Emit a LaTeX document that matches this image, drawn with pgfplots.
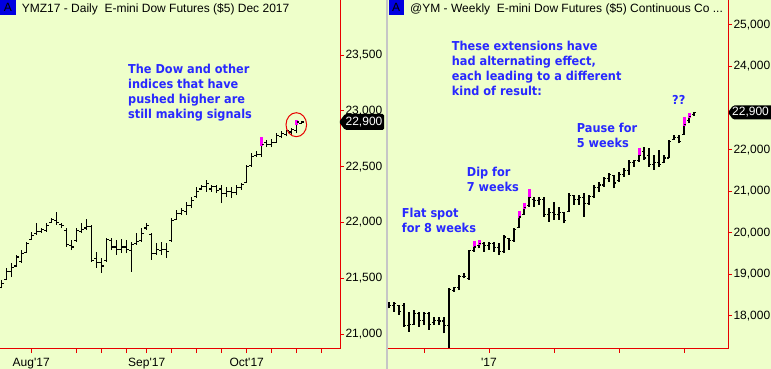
\documentclass[border=0pt]{standalone}
\usepackage{fontspec}
\setmainfont{Liberation Sans}
\newfontfamily\annfont[FakeStretch=0.92]{DejaVu Sans}
\usepackage{pgfplots}
\pgfplotsset{compat=1.18}
\usepackage{pgfplotstable}

\definecolor{bg}{RGB}{238,255,202}
\definecolor{chartred}{RGB}{232,0,0}
\definecolor{annblue}{RGB}{40,40,255}
\definecolor{boxblue}{RGB}{0,0,225}
\definecolor{mag}{RGB}{255,0,255}

% Daily bars: x o h l c
\pgfplotstableread{
x o h l c
1 21420 21484 21410 21450
2 21490 21592 21484 21560
3 21560 21637 21511 21600
4 21610 21709 21601 21690
5 21650 21753 21637 21720
6 21730 21828 21726 21810
7 21850 21918 21843 21880
8 21900 21998 21888 21920
9 21920 21950 21906 21935
10 21930 21998 21918 21975
11 22000 22040 21996 22030
12 22020 22094 21978 22000
13 21980 21995 21950 21970
14 21930 21950 21783 21800
15 21790 21843 21753 21780
16 21840 21950 21828 21930
17 21920 21995 21906 21940
18 21950 22030 21933 21960
19 21960 21978 21649 21660
20 21680 21738 21592 21640
21 21640 21682 21547 21610
22 21660 21861 21649 21850
23 21840 21861 21753 21780
24 21780 21843 21709 21760
25 21760 21852 21726 21780
26 21780 21843 21726 21760
27 21750 21828 21558 21800
28 21810 21906 21798 21830
29 21840 21950 21828 21900
30 21950 21998 21933 21975
31 21890 21906 21664 21720
32 21720 21816 21709 21760
33 21750 21828 21709 21760
34 21760 21816 21682 21740
35 21840 22040 21828 22020
36 22030 22112 22022 22080
37 22080 22130 22067 22110
38 22100 22186 22067 22150
39 22150 22231 22130 22200
40 22230 22321 22220 22280
41 22300 22336 22292 22320
42 22320 22381 22276 22350
43 22300 22336 22276 22320
44 22320 22336 22262 22290
45 22300 22336 22173 22260
46 22260 22321 22231 22280
47 22280 22321 22220 22270
48 22270 22336 22247 22310
49 22310 22354 22292 22340
50 22360 22516 22354 22500
51 22510 22624 22501 22590
52 22600 22636 22590 22610
53 22610 22761 22590 22700
54 22720 22740 22680 22700
55 22700 22745 22674 22720
56 22720 22803 22713 22780
57 22770 22815 22755 22800
58 22790 22830 22770 22820
59 22810 22845 22785 22830
60 22820 22920 22800 22900
61 22890 22905 22884 22900
}\daily

\pgfplotstableread{
x lo hi
53 22686 22761
60 22875 22920
}\dmag

% Weekly bars: x o h l c
\pgfplotstableread{
x o h l c
0 18300 18344 18184 18250
1 18250 18344 18103 18300
2 18250 18265 18024 18100
3 18260 18306 17743 17780
4 17780 18103 17622 17800
5 17800 18144 17783 18060
6 18060 18103 17743 17900
7 17900 18103 17783 18050
8 18050 18103 17663 17800
9 17850 17984 17783 17900
10 17900 17984 17783 17880
11 17880 17984 17583 17780
12 17780 18666 17223 18640
13 18620 18706 18585 18680
14 18680 18986 18625 18940
15 18940 19027 18907 18950
16 18900 19588 18866 19570
17 19580 19812 19548 19660
18 19700 19828 19628 19750
19 19750 19788 19548 19700
20 19700 19788 19588 19740
21 19740 19788 19548 19650
22 19650 19748 19467 19560
23 19560 19949 19508 19900
24 19860 19869 19588 19820
25 19820 20110 19788 20080
26 20120 20527 20110 20380
27 20450 20711 20430 20600
28 20650 21048 20631 20850
29 20800 20871 20631 20780
30 20780 20871 20671 20800
31 20800 20871 20390 20450
32 20450 20591 20270 20500
33 20500 20751 20310 20450
34 20450 20631 20310 20500
35 20480 20510 20230 20300
36 20520 20952 20510 20900
37 20900 20912 20671 20800
38 20800 20912 20671 20850
39 20850 20952 20390 20700
40 20700 20912 20671 20880
41 20880 21152 20831 21100
42 21100 21232 20992 21150
43 21150 21352 21112 21300
44 21300 21432 21232 21400
45 21380 21392 21072 21200
46 21250 21472 21232 21400
47 21400 21552 21352 21500
48 21500 21753 21392 21700
49 21700 21753 21592 21730
50 21730 22034 21712 21850
51 21950 22074 21753 21800
52 21850 22034 21592 21650
53 21650 21873 21512 21700
54 21700 21993 21592 21650
55 21700 21873 21672 21800
56 21800 22235 21793 22200
57 22250 22355 22235 22300
58 22300 22355 22154 22200
59 22360 22781 22355 22600
60 22700 22877 22637 22800
61 22840 22917 22813 22900
}\weekly

\pgfplotstableread{
x lo hi
17 19668 19812
18 19708 19828
26 20351 20527
27 20567 20711
28 20871 21048
50 21873 22034
59 22572 22781
60 22757 22877
}\wmag

\pgfplotsset{
  ohlc/.style={
    scale only axis, width=340pt, height=349pt, anchor=south west,
    axis x line*=bottom, axis y line*=right,
    axis line style={-, chartred, line width=1pt},
    tick style={chartred, line width=1pt},
    major tick length=4pt, tick align=outside,
    ticklabel style={font=\fontsize{12}{14}\selectfont, text=black},
    /pgf/number format/assume math mode=true,
    /pgf/number format/1000 sep={,},
    scaled y ticks=false,
    yticklabel style={anchor=west, xshift=-2pt},
    xticklabel style={anchor=north, yshift=-2pt},
    minor tick num=0,
  },
}

\begin{document}
\begin{tikzpicture}
\fill[bg] (0pt,0pt) rectangle (771pt,369pt);
\useasboundingbox (0pt,0pt) rectangle (771pt,369pt);
\draw[gray!45, line width=1.5pt] (387pt,0pt) -- (387pt,369pt);

% ---------- Left: daily ----------
\begin{axis}[ohlc, at={(0pt,20pt)},
  xmin=0.66, xmax=68.66, ymin=20866, ymax=23993,
  xtick={6.9,16,21,26,30,35,40,45,50,55,60,65},
  xticklabels={Aug\textquotesingle17,,,,Sep\textquotesingle17,,,,Oct\textquotesingle17,,,},
  ytick={21000,21500,22000,22500,23000,23500},
]
\addplot[black, line width=1.4pt, quiver={u=0, v=\thisrow{h}-\thisrow{l}}] table[x=x, y=l] {\daily};
\addplot[mag, line width=3pt, quiver={u=0, v=\thisrow{hi}-\thisrow{lo}}] table[x=x, y=lo] {\dmag};
\addplot[black, line width=1.1pt, quiver={u=-0.46, v=0}] table[x=x, y=o] {\daily};
\addplot[black, line width=1.1pt, quiver={u=0.46, v=0}] table[x=x, y=c] {\daily};
\end{axis}

% ---------- Right: weekly ----------
\begin{axis}[ohlc, at={(388pt,20pt)},
  xmin=-0.2, xmax=67.8, ymin=17206, ymax=25601,
  xtick={7,20,33,46,59},
  xticklabels={,\textquotesingle17,,,},
  ytick={18000,19000,20000,21000,22000,24000,25000},
]
\addplot[black, line width=1.4pt, quiver={u=0, v=\thisrow{h}-\thisrow{l}}] table[x=x, y=l] {\weekly};
\addplot[mag, line width=3pt, quiver={u=0, v=\thisrow{hi}-\thisrow{lo}}] table[x=x, y=lo] {\wmag};
\addplot[black, line width=1.1pt, quiver={u=-0.46, v=0}] table[x=x, y=o] {\weekly};
\addplot[black, line width=1.1pt, quiver={u=0.46, v=0}] table[x=x, y=c] {\weekly};
\end{axis}

\begin{scope}[x=1pt, y=1pt]
% price flags
\fill[black, rounded corners=1.5pt] (339,247) -- (345,255) -- (384,255) -- (384,239) -- (345,239) -- cycle;
\node[text=white, font=\fontsize{12}{14}\selectfont, inner sep=0pt] at (364,247) {22,900};
\fill[black, rounded corners=1.5pt] (728,256.5) -- (733,263.5) -- (775,263.5) -- (775,249.5) -- (733,249.5) -- cycle;
\node[text=white, font=\fontsize{12}{14}\selectfont, inner sep=0pt] at (750.5,256.5) {22,900};

% headers
\fill[boxblue] (0,369) rectangle (16,354);
\node[font=\fontsize{12}{14}\selectfont, inner sep=0pt] at (8,361.5) {A};
\node[anchor=base west, font=\fontsize{12}{14}\selectfont, inner sep=0pt] at (21.7,356.4) {YMZ17 - Daily\ \ E-mini Dow Futures (\$5) Dec 2017};
\fill[boxblue] (388.5,369) rectangle (404,354);
\node[font=\fontsize{12}{14}\selectfont, inner sep=0pt] at (396.2,361.5) {A};
\node[anchor=base west, font=\fontsize{12}{14}\selectfont, inner sep=0pt] at (410,356.4) {@YM - Weekly\ \ E-mini Dow Futures (\$5) Continuous Co ...};

% circle
\draw[chartred, line width=1pt] (296.3,244.3) ellipse [x radius=10.3, y radius=12];

% annotations
\begin{scope}[every node/.style={anchor=base west, inner sep=0pt, text=annblue, font=\annfont\bfseries\fontsize{12.3}{15}\selectfont}]
\node at (128,295.7) {The Dow and other};
\node at (128,280.7) {indices that have};
\node at (128,265.7) {pushed higher are};
\node at (128,250.7) {still making signals};
\node at (451.7,318) {These extensions have};
\node at (451.7,303) {had alternating effect,};
\node at (451.7,288) {each leading to a different};
\node at (451.7,273) {kind of result:};
\node at (672,264.6) {??};
\node at (576.7,236.3) {Pause for};
\node at (576.7,221.3) {5 weeks};
\node at (466.7,192) {Dip for};
\node at (466.7,177.3) {7 weeks};
\node at (401.7,151.3) {Flat spot};
\node at (401.7,136.3) {for 8 weeks};
\end{scope}
\end{scope}
\end{tikzpicture}
\end{document}
